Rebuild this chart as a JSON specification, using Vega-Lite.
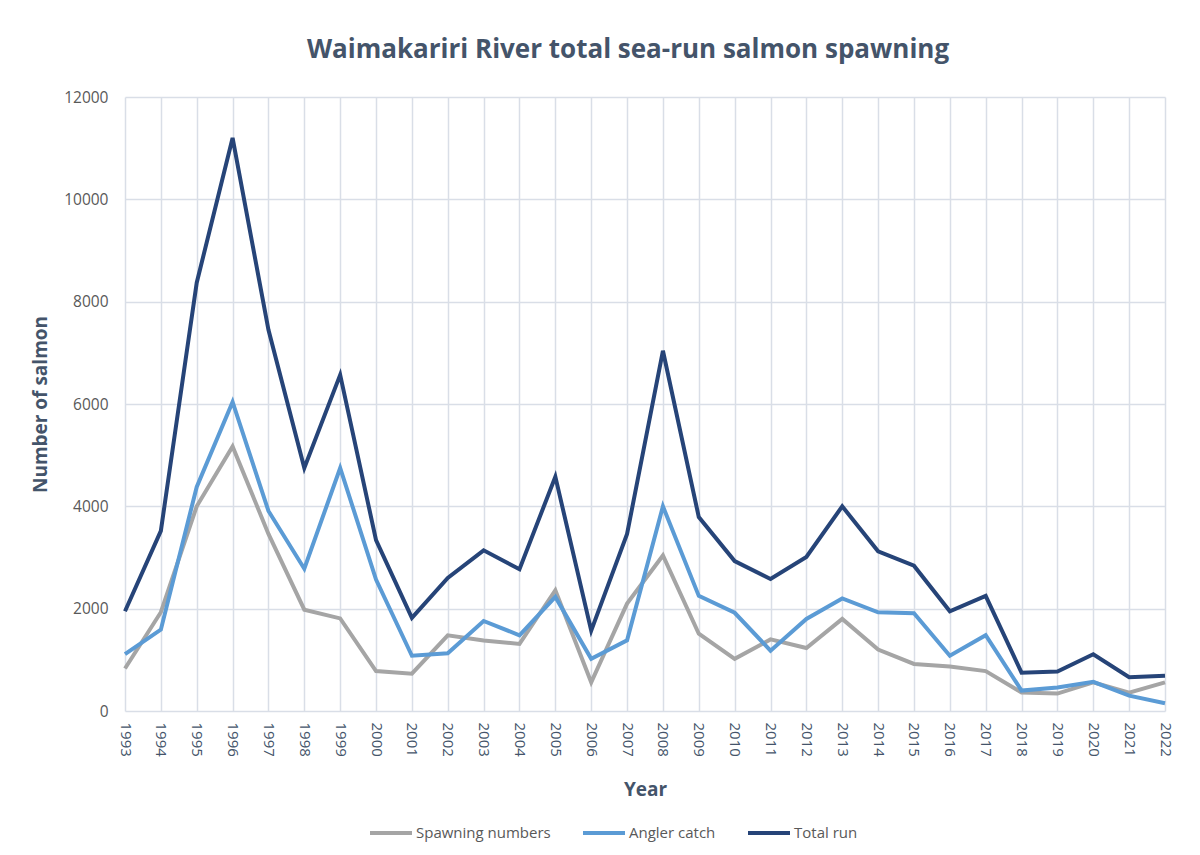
{
  "$schema": "https://vega.github.io/schema/vega-lite/v6.json",
  "autosize": {"type": "none"},
  "padding": {"left": 125, "top": 97, "right": 35, "bottom": 144},
  "width": 1040,
  "height": 614,
  "background": "white",
  "title": {
    "text": "Waimakariri River total sea-run salmon spawning",
    "font": "Open Sans",
    "fontSize": 26,
    "fontWeight": "bold",
    "color": "#44546A",
    "offset": 27,
    "dx": -17
  },
  "data": {
    "values": [
      {"Year": 1993, "Spawning numbers": 830, "Angler catch": 1110, "Total run": 1950},
      {"Year": 1994, "Spawning numbers": 1930, "Angler catch": 1590, "Total run": 3520},
      {"Year": 1995, "Spawning numbers": 4000, "Angler catch": 4380, "Total run": 8370},
      {"Year": 1996, "Spawning numbers": 5170, "Angler catch": 6040, "Total run": 11200},
      {"Year": 1997, "Spawning numbers": 3460, "Angler catch": 3910, "Total run": 7450},
      {"Year": 1998, "Spawning numbers": 1980, "Angler catch": 2780, "Total run": 4750},
      {"Year": 1999, "Spawning numbers": 1810, "Angler catch": 4750, "Total run": 6570},
      {"Year": 2000, "Spawning numbers": 780, "Angler catch": 2570, "Total run": 3340},
      {"Year": 2001, "Spawning numbers": 730, "Angler catch": 1080, "Total run": 1820},
      {"Year": 2002, "Spawning numbers": 1480, "Angler catch": 1130, "Total run": 2600},
      {"Year": 2003, "Spawning numbers": 1380, "Angler catch": 1760, "Total run": 3140},
      {"Year": 2004, "Spawning numbers": 1310, "Angler catch": 1480, "Total run": 2770},
      {"Year": 2005, "Spawning numbers": 2360, "Angler catch": 2230, "Total run": 4580},
      {"Year": 2006, "Spawning numbers": 560, "Angler catch": 1020, "Total run": 1570},
      {"Year": 2007, "Spawning numbers": 2100, "Angler catch": 1380, "Total run": 3460},
      {"Year": 2008, "Spawning numbers": 3040, "Angler catch": 4000, "Total run": 7040},
      {"Year": 2009, "Spawning numbers": 1510, "Angler catch": 2250, "Total run": 3790},
      {"Year": 2010, "Spawning numbers": 1020, "Angler catch": 1920, "Total run": 2930},
      {"Year": 2011, "Spawning numbers": 1400, "Angler catch": 1180, "Total run": 2580},
      {"Year": 2012, "Spawning numbers": 1230, "Angler catch": 1800, "Total run": 3010},
      {"Year": 2013, "Spawning numbers": 1800, "Angler catch": 2200, "Total run": 4000},
      {"Year": 2014, "Spawning numbers": 1200, "Angler catch": 1930, "Total run": 3120},
      {"Year": 2015, "Spawning numbers": 920, "Angler catch": 1910, "Total run": 2840},
      {"Year": 2016, "Spawning numbers": 870, "Angler catch": 1080, "Total run": 1950},
      {"Year": 2017, "Spawning numbers": 780, "Angler catch": 1480, "Total run": 2250},
      {"Year": 2018, "Spawning numbers": 360, "Angler catch": 400, "Total run": 750},
      {"Year": 2019, "Spawning numbers": 340, "Angler catch": 460, "Total run": 770},
      {"Year": 2020, "Spawning numbers": 560, "Angler catch": 570, "Total run": 1110},
      {"Year": 2021, "Spawning numbers": 360, "Angler catch": 300, "Total run": 660},
      {"Year": 2022, "Spawning numbers": 560, "Angler catch": 150, "Total run": 690}
    ]
  },
  "transform": [
    {"fold": ["Spawning numbers", "Angler catch", "Total run"], "as": ["Series", "Value"]}
  ],
  "mark": {"type": "line", "strokeWidth": 4, "strokeJoin": "miter", "strokeCap": "butt"},
  "encoding": {
    "x": {
      "field": "Year",
      "type": "ordinal",
      "scale": {"type": "point", "padding": 0},
      "axis": {
        "title": "Year",
        "labelAngle": 90,
        "labelAlign": "left",
        "labelBaseline": "middle",
        "labelPadding": 11,
        "labelColor": "#44546A",
        "labelFontSize": 15,
        "ticks": false,
        "domain": false,
        "grid": true,
        "titlePadding": 24
      }
    },
    "y": {
      "field": "Value",
      "type": "quantitative",
      "scale": {"domain": [0, 12000]},
      "axis": {
        "title": "Number of salmon",
        "values": [0, 2000, 4000, 6000, 8000, 10000, 12000],
        "format": "d",
        "ticks": false,
        "domain": false,
        "labelFontSize": 15.5,
        "labelPadding": 17,
        "titlePadding": 13
      }
    },
    "color": {
      "field": "Series",
      "type": "nominal",
      "sort": ["Spawning numbers", "Angler catch", "Total run"],
      "scale": {
        "domain": ["Spawning numbers", "Angler catch", "Total run"],
        "range": ["#A5A5A5", "#5B9BD5", "#264478"]
      },
      "legend": {
        "title": null,
        "orient": "none",
        "direction": "horizontal",
        "legendX": 243,
        "legendY": 713,
        "symbolType": "stroke",
        "symbolStrokeWidth": 4,
        "symbolSize": 1764,
        "labelOffset": 2,
        "columnPadding": 24,
        "labelFont": "Open Sans",
        "labelFontSize": 15,
        "labelColor": "#595959"
      }
    },
    "order": {"field": "Series"}
  },
  "config": {
    "view": {"stroke": null},
    "axis": {
      "gridColor": "#D9DEE7",
      "gridWidth": 1.5,
      "labelFont": "Open Sans",
      "labelFontSize": 14,
      "labelColor": "#595959",
      "titleFont": "Open Sans",
      "titleFontSize": 19,
      "titleFontWeight": "bold",
      "titleColor": "#44546A"
    }
  }
}
